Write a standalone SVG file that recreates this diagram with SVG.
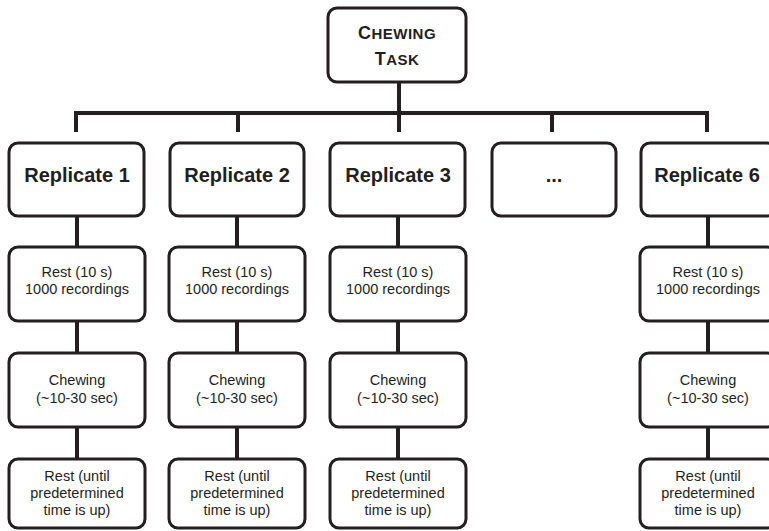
<svg xmlns="http://www.w3.org/2000/svg" width="769" height="531" viewBox="0 0 769 531">
<style>
.box{fill:#fff;stroke:#231f20;stroke-width:3}
.conn{stroke:#231f20;stroke-width:4;fill:none}
.t{font-family:"Liberation Sans",Arial,sans-serif;fill:#231f20;text-anchor:middle}
.rep{font-size:20px;font-weight:bold}
.sm{font-size:14.5px}
.title{font-weight:bold;letter-spacing:0.5px}
</style>
<rect width="769" height="531" fill="#fff"/>
<g id="connectors">
<path class="conn" d="M399 82V132M76 132V113H707V132M238 113V132M552 113V132"/>
<path class="conn" d="M77 216V247M77 321V353M77 427V459"/>
<path class="conn" d="M237 216V247M237 321V353M237 427V459"/>
<path class="conn" d="M398 216V247M398 321V353M398 427V459"/>
<path class="conn" d="M708 216V247M708 321V353M708 427V459"/>
</g>
<g id="task">
<rect class="box" x="328" y="8" width="138" height="74" rx="9"/>
<text class="t title" x="397" y="39"><tspan font-size="18">C</tspan><tspan font-size="15">HEWING</tspan></text>
<text class="t title" x="397" y="65"><tspan font-size="18">T</tspan><tspan font-size="15">ASK</tspan></text>
</g>
<g id="rep1">
<rect class="box" x="9" y="143" width="135" height="73" rx="9"/>
<text class="t rep" x="77" y="182">Replicate 1</text>
</g>
<g id="rep2">
<rect class="box" x="170" y="143" width="134" height="73" rx="9"/>
<text class="t rep" x="237" y="182">Replicate 2</text>
</g>
<g id="rep3">
<rect class="box" x="330" y="143" width="135" height="73" rx="9"/>
<text class="t rep" x="398" y="182">Replicate 3</text>
</g>
<g id="rep4">
<rect class="box" x="492" y="143" width="124" height="73" rx="9"/>
<text class="t rep" x="554" y="182">...</text>
</g>
<g id="rep6">
<rect class="box" x="641" y="143" width="135" height="73" rx="9"/>
<text class="t rep" x="707" y="182">Replicate 6</text>
</g>
<g id="rest1a">
<rect class="box" x="9" y="247" width="136" height="74" rx="9"/>
<text class="t sm" x="77" y="277">Rest (10 s)</text>
<text class="t sm" x="77" y="294">1000 recordings</text>
</g>
<g id="chew1">
<rect class="box" x="9" y="353" width="136" height="74" rx="9"/>
<text class="t sm" x="77" y="385">Chewing</text>
<text class="t sm" x="77" y="403">(~10-30 sec)</text>
</g>
<g id="rest1b">
<rect class="box" x="9" y="459" width="136" height="69" rx="9"/>
<text class="t sm" x="77" y="481">Rest (until</text>
<text class="t sm" x="77" y="498">predetermined</text>
<text class="t sm" x="77" y="515">time is up)</text>
</g>
<g id="rest2a">
<rect class="box" x="169" y="247" width="136" height="74" rx="9"/>
<text class="t sm" x="237" y="277">Rest (10 s)</text>
<text class="t sm" x="237" y="294">1000 recordings</text>
</g>
<g id="chew2">
<rect class="box" x="169" y="353" width="136" height="74" rx="9"/>
<text class="t sm" x="237" y="385">Chewing</text>
<text class="t sm" x="237" y="403">(~10-30 sec)</text>
</g>
<g id="rest2b">
<rect class="box" x="169" y="459" width="136" height="69" rx="9"/>
<text class="t sm" x="237" y="481">Rest (until</text>
<text class="t sm" x="237" y="498">predetermined</text>
<text class="t sm" x="237" y="515">time is up)</text>
</g>
<g id="rest3a">
<rect class="box" x="330" y="247" width="136" height="74" rx="9"/>
<text class="t sm" x="398" y="277">Rest (10 s)</text>
<text class="t sm" x="398" y="294">1000 recordings</text>
</g>
<g id="chew3">
<rect class="box" x="330" y="353" width="136" height="74" rx="9"/>
<text class="t sm" x="398" y="385">Chewing</text>
<text class="t sm" x="398" y="403">(~10-30 sec)</text>
</g>
<g id="rest3b">
<rect class="box" x="330" y="459" width="136" height="69" rx="9"/>
<text class="t sm" x="398" y="481">Rest (until</text>
<text class="t sm" x="398" y="498">predetermined</text>
<text class="t sm" x="398" y="515">time is up)</text>
</g>
<g id="rest6a">
<rect class="box" x="640" y="247" width="136" height="74" rx="9"/>
<text class="t sm" x="708" y="277">Rest (10 s)</text>
<text class="t sm" x="708" y="294">1000 recordings</text>
</g>
<g id="chew6">
<rect class="box" x="640" y="353" width="136" height="74" rx="9"/>
<text class="t sm" x="708" y="385">Chewing</text>
<text class="t sm" x="708" y="403">(~10-30 sec)</text>
</g>
<g id="rest6b">
<rect class="box" x="640" y="459" width="136" height="69" rx="9"/>
<text class="t sm" x="708" y="481">Rest (until</text>
<text class="t sm" x="708" y="498">predetermined</text>
<text class="t sm" x="708" y="515">time is up)</text>
</g>
</svg>
